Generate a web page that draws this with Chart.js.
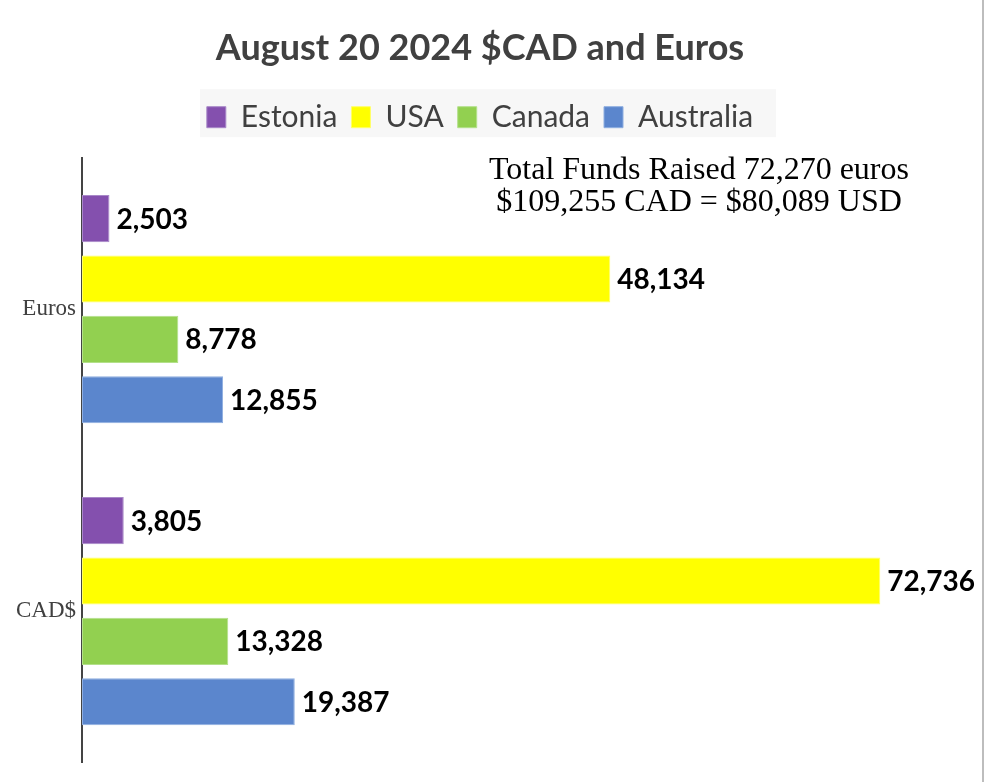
<!DOCTYPE html>
<html>
<head>
<meta charset="utf-8">
<title>August 20 2024 $CAD and Euros</title>
<script src="https://cdn.jsdelivr.net/npm/chart.js@4.4.1/dist/chart.umd.min.js"></script>
<style>
  body { margin: 0; background: #fff; }
  #wrap { position: relative; width: 986px; height: 782px; }
  #edge { position: absolute; left: 982px; top: 0; width: 2px; height: 782px; background: #bdbdbd; }
</style>
</head>
<body>
<div id="wrap">
  <canvas id="myChart" width="986" height="782"></canvas>
  <div id="edge"></div>
</div>
<script>
// categories on the y axis
const categories = ["Euros", "CAD$"];

// one series per country, values in the same order as categories
const countries = ["Estonia", "USA", "Canada", "Australia"];
const estonia = [2503, 3805];
const usa = [48134, 72736];
const canada = [8778, 13328];
const australia = [12855, 19387];

const fillColors = ["#8450ae", "#ffff00", "#92d050", "#5b86cd"];
const edgeColors = ["#a888c8", "#ffff66", "#b3e08a", "#8eaee0"];

const noteLines = ["Total Funds Raised 72,270 euros", "$109,255 CAD = $80,089 USD"];

// draws the number at the end of each bar
const valueLabels = {
  id: "valueLabels",
  afterDatasetsDraw(chart) {
    const ctx = chart.ctx;
    ctx.save();
    ctx.font = "bold 28px Lato";
    ctx.fillStyle = "#000";
    ctx.textBaseline = "middle";
    ctx.textAlign = "left";
    chart.data.datasets.forEach((ds, i) => {
      chart.getDatasetMeta(i).data.forEach((bar, j) => {
        ctx.fillText(ds.data[j].toLocaleString("en-US"), bar.x + 7, bar.y + 1);
      });
    });
    ctx.restore();
  }
};

// extra room under the legend, grey box behind it, and the totals note
const extras = {
  id: "extras",
  afterInit(chart) {
    const lg = chart.legend;
    const fit = lg.fit;
    lg.fit = function () {
      fit.call(this);
      this.height += 16;
    };
  },
  beforeDraw(chart) {
    const lg = chart.legend;
    const ctx = chart.ctx;
    ctx.save();
    ctx.fillStyle = "#f7f7f7";
    ctx.fillRect(200, lg.top + 1, 576, 48);
    ctx.restore();
  },
  afterDraw(chart) {
    const ctx = chart.ctx;
    ctx.save();
    ctx.font = "32px 'Liberation Serif'";
    ctx.fillStyle = "#000";
    ctx.textAlign = "center";
    ctx.textBaseline = "alphabetic";
    ctx.fillText(noteLines[0], 699, 179);
    ctx.fillText(noteLines[1], 699, 211);
    ctx.restore();
  }
};

let ctx = document.getElementById("myChart").getContext("2d");
let myChart = new Chart(ctx, {
  type: "bar",
  data: {
    labels: categories,
    datasets: [estonia, usa, canada, australia].map((vals, i) => ({
      label: countries[i],
      data: vals,
      backgroundColor: fillColors[i],
      borderColor: edgeColors[i],
      borderWidth: 1,
      borderSkipped: false,
      categoryPercentage: 0.8,
      barPercentage: 0.78
    }))
  },
  options: {
    indexAxis: "y",
    responsive: false,
    animation: false,
    layout: { padding: { top: 0, right: 26, bottom: 12, left: 0 } },
    plugins: {
      title: {
        display: true,
        text: "August 20 2024 $CAD and Euros",
        color: "#404040",
        font: { family: "Lato", size: 36, weight: "bold" },
        padding: { top: 27, bottom: 18 }
      },
      legend: {
        display: true,
        labels: {
          color: "#404040",
          font: { family: "Lato", size: 30 },
          boxWidth: 19,
          boxHeight: 21,
          padding: 14
        }
      },
      tooltip: { enabled: false }
    },
    scales: {
      x: {
        display: false,
        min: 0,
        max: 80000
      },
      y: {
        grid: { display: false, drawTicks: false },
        border: { display: true, color: "#444", width: 2 },
        ticks: {
          color: "#404040",
          font: { family: "Liberation Serif", size: 23 },
          padding: 6
        },
        afterFit(scale) {
          scale.width = 82;
        }
      }
    }
  },
  plugins: [valueLabels, extras]
});
</script>
</body>
</html>
